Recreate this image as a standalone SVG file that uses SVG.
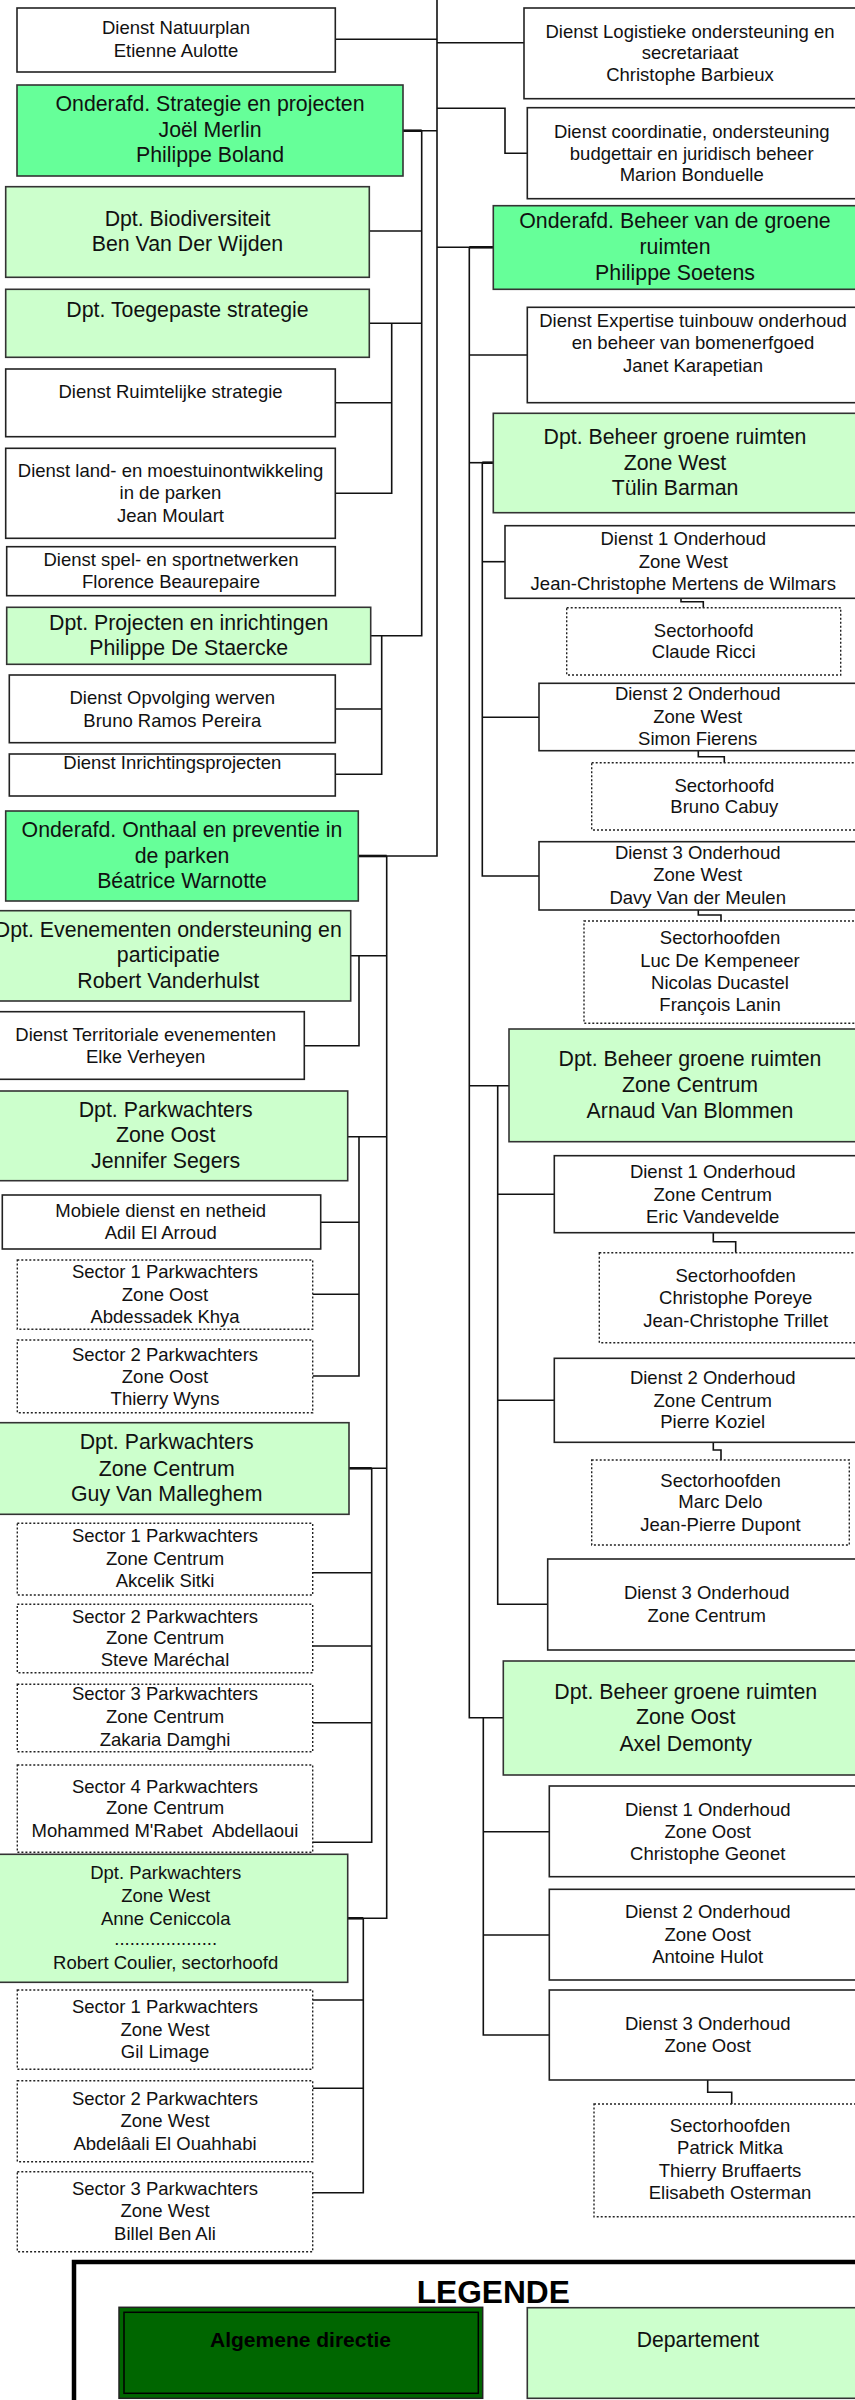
<svg xmlns="http://www.w3.org/2000/svg" width="855" height="2400" viewBox="0 0 855 2400">
<style>
.w{fill:#fff;stroke:#222;stroke-width:1.6}
.g1{fill:#66ff99;stroke:#333;stroke-width:1.6}
.g2{fill:#ccffcc;stroke:#333;stroke-width:1.6}
.d{fill:#fff;stroke:#222;stroke-width:1.4;stroke-dasharray:2 2}
text{font-family:"Liberation Sans",Arial,Helvetica,sans-serif;font-size:18.5px;fill:#111;text-anchor:middle}
.L{font-size:21.3px}
.c{fill:none;stroke:#111;stroke-width:1.6}
.cb{fill:none;stroke:#111;stroke-width:2.6}
</style>
<rect width="855" height="2400" fill="#fff"/>
<g id="connectors">
<path class="c" d="M437,-5V856H358.3"/>
<path class="c" d="M335.3,39.3H437"/>
<path class="c" d="M437,42.7H524"/>
<path class="c" d="M437,108.3H505V153.3H527.3"/>
<path class="c" d="M403,130.7H437"/>
<path class="cb" d="M403,130.7H421.7"/>
<path class="c" d="M421.7,130.7V635.7H370.7"/>
<path class="c" d="M369.3,231H421.7"/>
<path class="c" d="M369.3,323.3H421.7"/>
<path class="c" d="M391.7,323.3V493.3H335.3"/>
<path class="c" d="M335.3,402.7H391.7"/>
<path class="c" d="M381.7,635.7V774.3H335.3"/>
<path class="c" d="M335.3,709H381.7"/>
<path class="c" d="M437,247.3H493.3"/>
<path class="cb" d="M469.3,247.3H493.3"/>
<path class="c" d="M469.3,247.3V1717.7H503.3"/>
<path class="c" d="M469.3,355H527.3"/>
<path class="c" d="M469.3,462.7H493.3"/>
<path class="cb" d="M482.3,462.7H493.3"/>
<path class="c" d="M482.3,462.7V876H539"/>
<path class="c" d="M482.3,561.7H505"/>
<path class="c" d="M681,598.3V601.7H703.3V607.7"/>
<path class="c" d="M482.3,717.3H539"/>
<path class="c" d="M698.3,750.7V756.7H724.3V762.7"/>
<path class="c" d="M698.3,910V915H721V921"/>
<path class="c" d="M469.3,1085.7H509"/>
<path class="c" d="M497.7,1085.7V1604.3H547.7"/>
<path class="c" d="M497.7,1194.3H554.3"/>
<path class="c" d="M713.3,1232.7V1241.7H735.7V1252.7"/>
<path class="c" d="M497.7,1400.3H554.3"/>
<path class="c" d="M713.3,1442.3V1450H721V1460"/>
<path class="c" d="M483.3,1717.7V2035H549.3"/>
<path class="c" d="M483.3,1831.7H549.3"/>
<path class="c" d="M483.3,1935H549.3"/>
<path class="c" d="M707.7,2080V2092.3H731.7V2104"/>
<path class="c" d="M386.7,856V1918.3H347.7"/>
<path class="cb" d="M358.3,856H386.7"/>
<path class="c" d="M350.7,955.7H386.7"/>
<path class="c" d="M359,955.7V1045.7H304.3"/>
<path class="c" d="M347.7,1136.7H386.7"/>
<path class="c" d="M359,1136.7V1376H312.7"/>
<path class="c" d="M320.7,1222.3H359"/>
<path class="c" d="M312.7,1294.3H359"/>
<path class="c" d="M349,1468.3H386.7"/>
<path class="cb" d="M349,1468.3H371.7"/>
<path class="c" d="M371.7,1468.3V1842.3H312.7"/>
<path class="c" d="M312.7,1572.7H371.7"/>
<path class="c" d="M312.7,1646H371.7"/>
<path class="c" d="M312.7,1722.7H371.7"/>
<path class="cb" d="M347.7,1918.3H363.3"/>
<path class="c" d="M363.3,1918.3V2192.7H312.7"/>
<path class="c" d="M312.7,2000H363.3"/>
<path class="c" d="M312.7,2088.3H363.3"/>
</g>
<g id="n-natuurplan"><rect class="w" x="17" y="8" width="318.3" height="64"/><text x="176" y="34.3">Dienst Natuurplan</text><text x="176" y="57.3">Etienne Aulotte</text></g>
<g id="n-onderafd-strategie"><rect class="g1" x="17" y="85" width="386" height="91"/><text class="L" x="210" y="111.3">Onderafd. Strategie en projecten</text><text class="L" x="210" y="137.3">Joël Merlin</text><text class="L" x="210" y="162.3">Philippe Boland</text></g>
<g id="n-biodiversiteit"><rect class="g2" x="5.7" y="186.7" width="363.6" height="90.6"/><text class="L" x="187.5" y="225.6">Dpt. Biodiversiteit</text><text class="L" x="187.5" y="251.3">Ben Van Der Wijden</text></g>
<g id="n-toegepaste"><rect class="g2" x="5.7" y="289.3" width="363.6" height="68"/><text class="L" x="187.5" y="317.3">Dpt. Toegepaste strategie</text></g>
<g id="n-ruimtelijke"><rect class="w" x="5.7" y="369" width="329.6" height="67.7"/><text x="170.5" y="397.6">Dienst Ruimtelijke strategie</text></g>
<g id="n-moestuin"><rect class="w" x="5.7" y="448.3" width="329.6" height="90"/><text x="170.5" y="477.3">Dienst land- en moestuinontwikkeling</text><text x="170.5" y="499.3">in de parken</text><text x="170.5" y="521.6">Jean Moulart</text></g>
<g id="n-spel"><rect class="w" x="6.7" y="546.7" width="328.6" height="49"/><text x="171" y="565.6">Dienst spel- en sportnetwerken</text><text x="171" y="588.3">Florence Beaurepaire</text></g>
<g id="n-projecten"><rect class="g2" x="6.7" y="607.3" width="364" height="57"/><text class="L" x="188.7" y="629.6">Dpt. Projecten en inrichtingen</text><text class="L" x="188.7" y="655">Philippe De Staercke</text></g>
<g id="n-opvolging"><rect class="w" x="9.3" y="675" width="326" height="67.7"/><text x="172.3" y="703.9">Dienst Opvolging werven</text><text x="172.3" y="726.6">Bruno Ramos Pereira</text></g>
<g id="n-inrichting"><rect class="w" x="9.3" y="754" width="326" height="42"/><text x="172.3" y="769.3">Dienst Inrichtingsprojecten</text></g>
<g id="n-onderafd-onthaal"><rect class="g1" x="5.7" y="811" width="352.6" height="90"/><text class="L" x="182" y="837.3">Onderafd. Onthaal en preventie in</text><text class="L" x="182" y="863">de parken</text><text class="L" x="182" y="888">Béatrice Warnotte</text></g>
<g id="n-evenementen"><rect class="g2" x="-14" y="910.7" width="364.7" height="90.3"/><text class="L" x="168.3" y="937.3">Dpt. Evenementen ondersteuning en</text><text class="L" x="168.3" y="962.3">participatie</text><text class="L" x="168.3" y="988">Robert Vanderhulst</text></g>
<g id="n-territoriale"><rect class="w" x="-13" y="1011.7" width="317.3" height="67.6"/><text x="145.7" y="1040.6">Dienst Territoriale evenementen</text><text x="145.7" y="1063.3">Elke Verheyen</text></g>
<g id="n-pw-oost"><rect class="g2" x="-16" y="1091" width="363.7" height="89.7"/><text class="L" x="165.7" y="1117.3">Dpt. Parkwachters</text><text class="L" x="165.7" y="1142.3">Zone Oost</text><text class="L" x="165.7" y="1168">Jennifer Segers</text></g>
<g id="n-mobiele"><rect class="w" x="2.3" y="1195" width="318.4" height="54"/><text x="160.7" y="1217.3">Mobiele dienst en netheid</text><text x="160.7" y="1239.3">Adil El Arroud</text></g>
<g id="n-s1-oost"><rect class="d" x="17.3" y="1260" width="295.4" height="69.3"/><text x="165" y="1278.3">Sector 1 Parkwachters</text><text x="165" y="1300.6">Zone Oost</text><text x="165" y="1323.3">Abdessadek Khya</text></g>
<g id="n-s2-oost"><rect class="d" x="17.3" y="1340" width="295.4" height="72.7"/><text x="165" y="1360.6">Sector 2 Parkwachters</text><text x="165" y="1382.6">Zone Oost</text><text x="165" y="1404.9">Thierry Wyns</text></g>
<g id="n-pw-centrum"><rect class="g2" x="-16" y="1422.7" width="365" height="91.6"/><text class="L" x="166.7" y="1449">Dpt. Parkwachters</text><text class="L" x="166.7" y="1475.6">Zone Centrum</text><text class="L" x="166.7" y="1500.6">Guy Van Malleghem</text></g>
<g id="n-s1-centrum"><rect class="d" x="17.3" y="1523.3" width="295.4" height="71.7"/><text x="165" y="1542.3">Sector 1 Parkwachters</text><text x="165" y="1564.9">Zone Centrum</text><text x="165" y="1587.3">Akcelik Sitki</text></g>
<g id="n-s2-centrum"><rect class="d" x="17.3" y="1604.3" width="295.4" height="68.4"/><text x="165" y="1622.6">Sector 2 Parkwachters</text><text x="165" y="1644.3">Zone Centrum</text><text x="165" y="1665.9">Steve Maréchal</text></g>
<g id="n-s3-centrum"><rect class="d" x="17.3" y="1684.3" width="295.4" height="67.4"/><text x="165" y="1699.9">Sector 3 Parkwachters</text><text x="165" y="1723.3">Zone Centrum</text><text x="165" y="1745.9">Zakaria Damghi</text></g>
<g id="n-s4-centrum"><rect class="d" x="17.3" y="1765" width="295.4" height="87.3"/><text x="165" y="1792.6">Sector 4 Parkwachters</text><text x="165" y="1814.3">Zone Centrum</text><text x="165" y="1837.3">Mohammed M'Rabet&#160; Abdellaoui</text></g>
<g id="n-pw-west"><rect class="g2" x="-16" y="1854.3" width="363.7" height="128"/><text x="165.7" y="1879.3">Dpt. Parkwachters</text><text x="165.7" y="1901.6">Zone West</text><text x="165.7" y="1924.9">Anne Ceniccola</text><text x="165.7" y="1945">....................</text><text x="165.7" y="1969.3">Robert Coulier, sectorhoofd</text></g>
<g id="n-s1-west"><rect class="d" x="17.3" y="1990" width="295.4" height="79.3"/><text x="165" y="2013.3">Sector 1 Parkwachters</text><text x="165" y="2035.6">Zone West</text><text x="165" y="2058.3">Gil Limage</text></g>
<g id="n-s2-west"><rect class="d" x="17.3" y="2080.7" width="295.4" height="81"/><text x="165" y="2104.9">Sector 2 Parkwachters</text><text x="165" y="2127.3">Zone West</text><text x="165" y="2149.9">Abdelâali El Ouahhabi</text></g>
<g id="n-s3-west"><rect class="d" x="17.3" y="2171.7" width="295.4" height="80"/><text x="165" y="2194.9">Sector 3 Parkwachters</text><text x="165" y="2217.3">Zone West</text><text x="165" y="2239.9">Billel Ben Ali</text></g>
<g id="n-logistiek"><rect class="w" x="524" y="8" width="332" height="90.7"/><text x="690" y="37.6">Dienst Logistieke ondersteuning en</text><text x="690" y="59.3">secretariaat</text><text x="690" y="81.3">Christophe Barbieux</text></g>
<g id="n-coordinatie"><rect class="w" x="527.3" y="107.7" width="329" height="91"/><text x="691.7" y="137.6">Dienst coordinatie, ondersteuning</text><text x="691.7" y="159.9">budgettair en juridisch beheer</text><text x="691.7" y="180.9">Marion Bonduelle</text></g>
<g id="n-onderafd-beheer"><rect class="g1" x="493.3" y="205.7" width="363.4" height="83.6"/><text class="L" x="675" y="228">Onderafd. Beheer van de groene</text><text class="L" x="675" y="254">ruimten</text><text class="L" x="675" y="280">Philippe Soetens</text></g>
<g id="n-expertise"><rect class="w" x="527.3" y="307.3" width="331.4" height="95.4"/><text x="693" y="327.3">Dienst Expertise tuinbouw onderhoud</text><text x="693" y="349.3">en beheer van bomenerfgoed</text><text x="693" y="371.6">Janet Karapetian</text></g>
<g id="n-dpt-zw"><rect class="g2" x="493.3" y="413.3" width="363.4" height="99.4"/><text class="L" x="675" y="444">Dpt. Beheer groene ruimten</text><text class="L" x="675" y="470">Zone West</text><text class="L" x="675" y="494.6">Tülin Barman</text></g>
<g id="n-d1-zw"><rect class="w" x="505" y="525.7" width="357" height="72.6"/><text x="683.3" y="544.9">Dienst 1 Onderhoud</text><text x="683.3" y="568.3">Zone West</text><text x="683.3" y="589.9">Jean-Christophe Mertens de Wilmars</text></g>
<g id="n-sh-ricci"><rect class="d" x="566.7" y="607.7" width="274" height="67.3"/><text x="703.7" y="636.6">Sectorhoofd</text><text x="703.7" y="658.3">Claude Ricci</text></g>
<g id="n-d2-zw"><rect class="w" x="539" y="683.3" width="317" height="67.4"/><text x="697.7" y="699.9">Dienst 2 Onderhoud</text><text x="697.7" y="723.3">Zone West</text><text x="697.7" y="744.9">Simon Fierens</text></g>
<g id="n-sh-cabuy"><rect class="d" x="591.7" y="762.7" width="266" height="67.3"/><text x="724.3" y="791.6">Sectorhoofd</text><text x="724.3" y="813.3">Bruno Cabuy</text></g>
<g id="n-d3-zw"><rect class="w" x="539" y="841.7" width="317" height="68.3"/><text x="697.7" y="858.9">Dienst 3 Onderhoud</text><text x="697.7" y="880.9">Zone West</text><text x="697.7" y="903.9">Davy Van der Meulen</text></g>
<g id="n-sh-zw3"><rect class="d" x="584" y="921" width="272" height="102.3"/><text x="720" y="944.3">Sectorhoofden</text><text x="720" y="967.3">Luc De Kempeneer</text><text x="720" y="989.3">Nicolas Ducastel</text><text x="720" y="1010.9">François Lanin</text></g>
<g id="n-dpt-zc"><rect class="g2" x="509" y="1029" width="362" height="112.7"/><text class="L" x="690" y="1065.6">Dpt. Beheer groene ruimten</text><text class="L" x="690" y="1092.3">Zone Centrum</text><text class="L" x="690" y="1118">Arnaud Van Blommen</text></g>
<g id="n-d1-zc"><rect class="w" x="554.3" y="1155.7" width="317" height="77"/><text x="712.7" y="1178.3">Dienst 1 Onderhoud</text><text x="712.7" y="1200.6">Zone Centrum</text><text x="712.7" y="1223.3">Eric Vandevelde</text></g>
<g id="n-sh-zc1"><rect class="d" x="599.3" y="1252.7" width="273" height="90"/><text x="735.7" y="1281.6">Sectorhoofden</text><text x="735.7" y="1304.3">Christophe Poreye</text><text x="735.7" y="1326.6">Jean-Christophe Trillet</text></g>
<g id="n-d2-zc"><rect class="w" x="554.3" y="1358.3" width="317" height="84"/><text x="712.7" y="1384.3">Dienst 2 Onderhoud</text><text x="712.7" y="1406.6">Zone Centrum</text><text x="712.7" y="1428.3">Pierre Koziel</text></g>
<g id="n-sh-zc2"><rect class="d" x="591.7" y="1460" width="257.6" height="85"/><text x="720.5" y="1486.6">Sectorhoofden</text><text x="720.5" y="1508.3">Marc Delo</text><text x="720.5" y="1530.6">Jean-Pierre Dupont</text></g>
<g id="n-d3-zc"><rect class="w" x="547.7" y="1559" width="318" height="91"/><text x="706.7" y="1599.3">Dienst 3 Onderhoud</text><text x="706.7" y="1621.6">Zone Centrum</text></g>
<g id="n-dpt-zo"><rect class="g2" x="503.3" y="1661" width="365" height="114"/><text class="L" x="685.7" y="1699">Dpt. Beheer groene ruimten</text><text class="L" x="685.7" y="1724">Zone Oost</text><text class="L" x="685.7" y="1750.6">Axel Demonty</text></g>
<g id="n-d1-zo"><rect class="w" x="549.3" y="1786" width="317" height="90.7"/><text x="707.7" y="1815.6">Dienst 1 Onderhoud</text><text x="707.7" y="1837.6">Zone Oost</text><text x="707.7" y="1859.9">Christophe Geonet</text></g>
<g id="n-d2-zo"><rect class="w" x="549.3" y="1889.3" width="317" height="90.7"/><text x="707.7" y="1918.3">Dienst 2 Onderhoud</text><text x="707.7" y="1940.6">Zone Oost</text><text x="707.7" y="1963.3">Antoine Hulot</text></g>
<g id="n-d3-zo"><rect class="w" x="549.3" y="1990" width="317" height="90"/><text x="707.7" y="2029.9">Dienst 3 Onderhoud</text><text x="707.7" y="2052.3">Zone Oost</text></g>
<g id="n-sh-zo"><rect class="d" x="594" y="2104" width="272" height="112.7"/><text x="730" y="2132.3">Sectorhoofden</text><text x="730" y="2154.3">Patrick Mitka</text><text x="730" y="2177.3">Thierry Bruffaerts</text><text x="730" y="2199.3">Elisabeth Osterman</text></g>
<g id="legend">
<rect x="74" y="2262" width="900" height="300" fill="#fff" stroke="#000" stroke-width="4.5"/>
<text x="493.3" y="2302.7" style="font-size:31.7px;font-weight:bold;fill:#000">LEGENDE</text>
<g id="legend-algemene"><rect x="119" y="2307.3" width="363.7" height="91" fill="#006600" stroke="#222" stroke-width="1.5"/><rect x="124" y="2312.3" width="354.3" height="81" fill="none" stroke="#000" stroke-width="1.5"/><text x="300.5" y="2347" style="font-size:21px;font-weight:bold;fill:#000">Algemene directie</text></g>
<g id="legend-departement"><rect class="g2" x="527.3" y="2307.7" width="342" height="90.6"/><text x="698" y="2346.9" style="font-size:21.2px">Departement</text></g>
</g>
</svg>
